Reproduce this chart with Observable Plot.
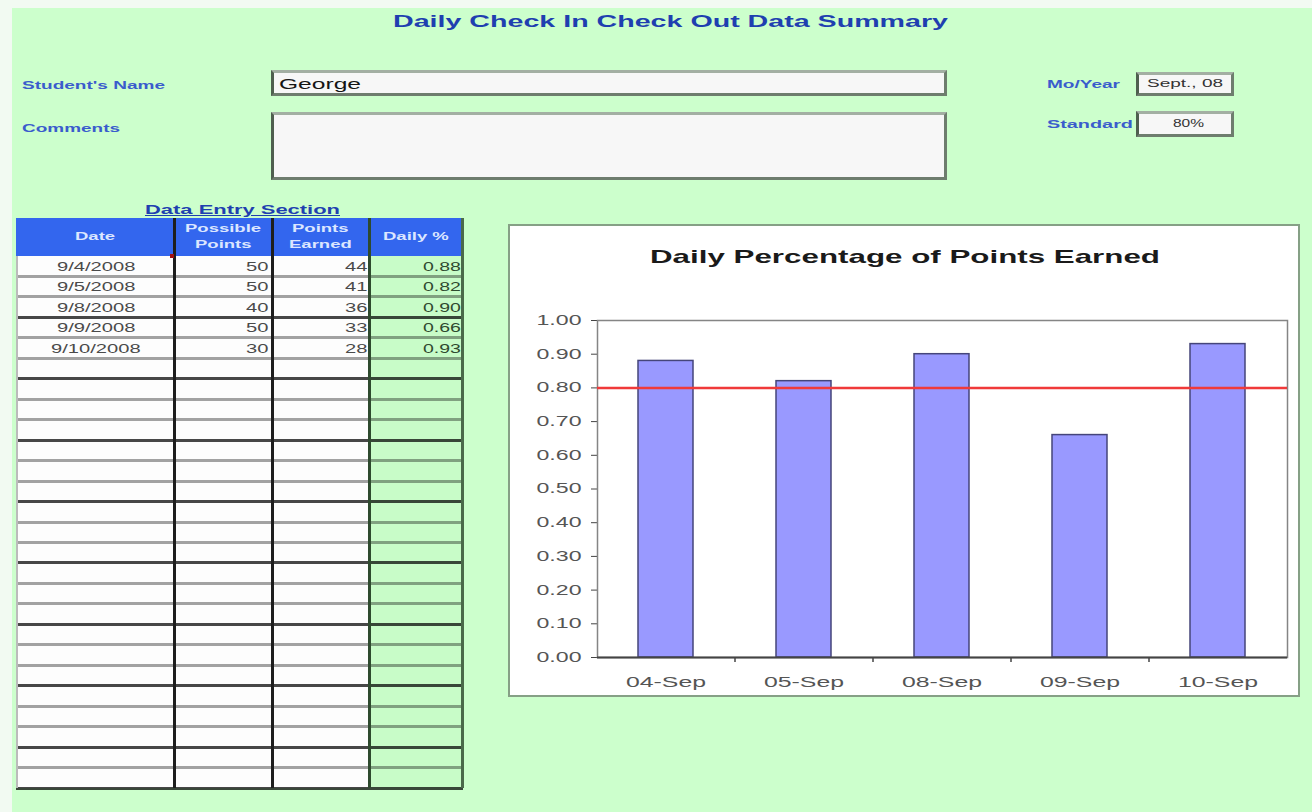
<!DOCTYPE html>
<html><head><meta charset="utf-8">
<script src="https://cdn.jsdelivr.net/npm/d3@7"></script>
<script src="https://cdn.jsdelivr.net/npm/@observablehq/plot@0.6"></script>
<style>
html,body{margin:0;padding:0;}
body{width:1312px;height:812px;background:#f2faf2;position:relative;overflow:hidden;font-family:"Liberation Sans",Arial,sans-serif;}
#sheet{position:absolute;left:12px;top:8px;right:0;bottom:0;background:#ccffcc;}
.lbl{position:absolute;white-space:nowrap;transform-origin:0 50%;line-height:1;}
.box{position:absolute;box-sizing:border-box;background:#f7f7f7;border:3px solid #6e7d6e;border-top-color:#a3afa3;border-left-color:#4f5f4f;}
.r{position:absolute;}
</style></head><body>
<div id="sheet"></div>
<script>
// ---- data ----
const dates = ["9/4/2008", "9/5/2008", "9/8/2008", "9/9/2008", "9/10/2008"];
const dayLabels = ["04-Sep", "05-Sep", "08-Sep", "09-Sep", "10-Sep"];
const possiblePoints = [50, 50, 40, 50, 30];
const pointsEarned = [44, 41, 36, 33, 28];
const dailyPct = [0.88, 0.82, 0.90, 0.66, 0.93];
const standard = 0.80;
const yTicks = [0.0, 0.1, 0.2, 0.3, 0.4, 0.5, 0.6, 0.7, 0.8, 0.9, 1.0];
const headers = [["Date"], ["Possible", "Points"], ["Points", "Earned"], ["Daily %"]];
const studentName = "George";
const moYear = "Sept., 08";
const standardText = "80%";

// ---- helpers ----
function put(str, o) {
  const d = document.createElement("div");
  d.className = "lbl";
  d.textContent = str;
  Object.assign(d.style, o.css || {});
  d.style.fontSize = o.size + "px";
  document.body.appendChild(d);
  const nat = d.getBoundingClientRect().width;
  const sx = o.w ? o.w / nat : (o.sx || 1);
  const w = nat * sx;
  const left = o.anchor === "end" ? o.x - w : o.anchor === "middle" ? o.x - w / 2 : o.x;
  d.style.left = left + "px";
  d.style.top = (o.cy - o.size / 2) + "px";
  d.style.transform = `scaleX(${sx})`;
  return d;
}
function rect(x, y, w, h, css) {
  const d = document.createElement("div");
  d.className = "r";
  Object.assign(d.style, {left: x + "px", top: y + "px", width: w + "px", height: h + "px"}, css || {});
  document.body.appendChild(d);
  return d;
}
function box(x, y, w, h) {
  const d = document.createElement("div");
  d.className = "box";
  Object.assign(d.style, {left: x + "px", top: y + "px", width: w + "px", height: h + "px"});
  document.body.appendChild(d);
}

// ---- header area ----
const blue = "#3a5ccc";
put("Daily Check In Check Out Data Summary", {x: 393, cy: 22, size: 16, w: 555, css: {fontWeight: "bold", color: "#1f3fb0"}});
put("Student's Name", {x: 22, cy: 85, size: 11, w: 143, css: {fontWeight: "bold", color: blue}});
put("Comments", {x: 22, cy: 128, size: 11, w: 98, css: {fontWeight: "bold", color: blue}});
put("Mo/Year", {x: 1047, cy: 84, size: 11, w: 73, css: {fontWeight: "bold", color: blue}});
put("Standard", {x: 1047, cy: 124, size: 11, w: 86, css: {fontWeight: "bold", color: blue}});
box(271, 70, 676, 26);
box(271, 112, 676, 68);
box(1136, 72, 98, 24);
box(1136, 111, 98, 26);
put(studentName, {x: 279, cy: 84, size: 14, w: 82, css: {color: "#151515"}});
put(moYear, {x: 1147, cy: 84, size: 10, w: 76, css: {color: "#333"}});
put(standardText, {x: 1188, cy: 124, size: 10, w: 31, anchor: "middle", css: {color: "#333"}});

// ---- data entry table ----
put("Data Entry Section", {x: 145, cy: 210, size: 12, w: 195, css: {fontWeight: "bold", color: "#1f3fb0", textDecoration: "underline"}});
const colX = [16, 174, 272, 369, 463];
const headTop = 218, headBot = 256, nRows = 26, tableBot = 788;
const rowH = (tableBot - headBot) / nRows;
rect(colX[0], headTop, colX[4] - colX[0], headBot - headTop, {background: "#3366ee"});
rect(colX[0], headBot, colX[3] - colX[0], tableBot - headBot, {background: "#fdfdfd"});
rect(colX[3], headBot, colX[4] - colX[3], tableBot - headBot, {background: "#c8fcc8"});
headers.forEach((lines, c) => {
  const cx = (colX[c] + colX[c + 1]) / 2;
  const sx = 1.85;
  if (lines.length === 1) put(lines[0], {x: cx, cy: 237, size: 10, sx, anchor: "middle", css: {fontWeight: "bold", color: "#dce6ff"}});
  else lines.forEach((t, k) => put(t, {x: cx, cy: 229 + k * 16, size: 10, sx, anchor: "middle", css: {fontWeight: "bold", color: "#dce6ff"}}));
});
for (let i = 1; i <= nRows; i++) {
  const y = headBot + i * rowH;
  const dark = i % 3 === 0 || i === nRows;
  rect(colX[0], y - 1.5, colX[4] - colX[0], 3, {background: dark ? "rgba(0,0,0,0.72)" : "rgba(0,0,0,0.36)"});
}
rect(colX[0], headBot, 2, tableBot - headBot, {background: "#bbb"});
rect(colX[1] - 1, headTop, 3, tableBot - headTop, {background: "#1e1e1e"});
rect(colX[2] - 1, headTop, 3, tableBot - headTop, {background: "#1e1e1e"});
rect(colX[3] - 1, headTop, 3, tableBot - headTop, {background: "#2e4a2e"});
rect(colX[4] - 2, headTop, 3, tableBot - headTop, {background: "#4a6a4a"});
rect(colX[1] - 4, headBot - 2, 4, 4, {background: "#a01010"});
dates.forEach((d, i) => {
  const cy = headBot + (i + 0.5) * rowH;
  const css = {color: "#4a4a4a"};
  put(d, {x: 96, cy, size: 13, sx: 1.55, anchor: "middle", css});
  put(String(possiblePoints[i]), {x: 268, cy, size: 13, sx: 1.55, anchor: "end", css});
  put(String(pointsEarned[i]), {x: 367, cy, size: 13, sx: 1.55, anchor: "end", css});
  put(dailyPct[i].toFixed(2), {x: 461, cy, size: 13, sx: 1.5, anchor: "end", css: {color: "#2f4a2f"}});
});

// ---- chart panel ----
rect(508, 224, 792, 473, {background: "#ffffff", border: "2px solid #86a086", boxSizing: "border-box"});
put("Daily Percentage of Points Earned", {x: 650, cy: 256, size: 19, w: 510, css: {fontWeight: "bold", color: "#1a1a1a"}});

const W = 788, H = 395, ML = 87, MR = 11, MT = 20, MB = 38;
const step = (W - ML - MR) / dayLabels.length;
const rows = dayLabels.map((label, i) => ({label, value: dailyPct[i]}));
const chart = Plot.plot({
  width: W, height: H,
  marginLeft: ML, marginRight: MR, marginTop: MT, marginBottom: MB,
  style: {background: "transparent", color: "#444", fontSize: "14px", fontFamily: "Liberation Sans, Arial, sans-serif"},
  x: {domain: dayLabels, paddingInner: 0.6, paddingOuter: 0.3, label: null, tickSize: 0, tickPadding: 20},
  y: {domain: [0, 1], ticks: yTicks, tickFormat: d3.format(".2f"), tickSize: 6, tickPadding: 10, label: null, line: true},
  marks: [
    Plot.frame({stroke: "#858585", strokeWidth: 1.5}),
    Plot.barY(rows, {x: "label", y: "value", fill: "#9999ff", stroke: "#45457a", strokeWidth: 1.5}),
    Plot.ruleY([standard], {stroke: "#f03a3a", strokeWidth: 2.5}),
    Plot.ruleY([0], {stroke: "#444", strokeWidth: 2}),
    Plot.ruleX(dayLabels.slice(1), {x: d => d, dx: -step / 2, y1: () => 0, y2: () => 0, insetBottom: -5, stroke: "#444", strokeWidth: 1.5})
  ]
});
const holder = document.createElement("div");
Object.assign(holder.style, {position: "absolute", left: "510px", top: "300px"});
holder.appendChild(chart);
document.body.appendChild(holder);
const svg = d3.select(chart.tagName.toLowerCase() === "svg" ? chart : chart.querySelector("svg"));
svg.selectAll('g[aria-label^="x-axis"] text').attr("textLength", 80).attr("lengthAdjust", "spacingAndGlyphs").attr("fill", "#555");
svg.selectAll('g[aria-label^="y-axis"] text').attr("textLength", 45).attr("lengthAdjust", "spacingAndGlyphs").attr("fill", "#555");
</script>
</body></html>
